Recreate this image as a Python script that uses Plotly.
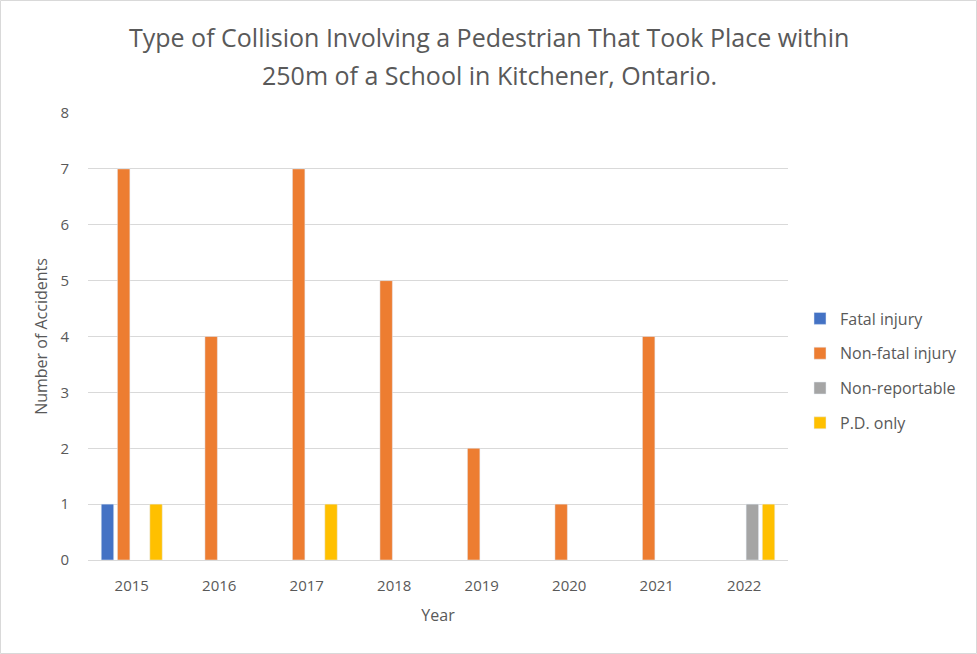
import plotly.graph_objects as go

years = ["2015", "2016", "2017", "2018", "2019", "2020", "2021", "2022"]
fatal = [1, 0, 0, 0, 0, 0, 0, 0]
non_fatal = [7, 4, 7, 5, 2, 1, 4, 0]
non_reportable = [0, 0, 0, 0, 0, 0, 0, 1]
pd_only = [1, 0, 1, 0, 0, 0, 0, 1]

title_lines = ["Type of Collision Involving a Pedestrian That Took Place within",
               "250m of a School in Kitchener, Ontario."]

series = [
    ("Fatal injury", fatal, "#4472C4"),
    ("Non-fatal injury", non_fatal, "#ED7D31"),
    ("Non-reportable", non_reportable, "#A5A5A5"),
    ("P.D. only", pd_only, "#FFC000"),
]

W, H = 977, 654
L, R, T, B = 88, 6, 113, 94
pw, ph = W - L - R, H - T - B
plot_w = 700

FONT = "Open Sans"
TXT = "#595959"

fig = go.Figure()
for i, (name, vals, col) in enumerate(series):
    fig.add_trace(go.Bar(x=years, y=[v if v != 0 else None for v in vals],
                         name=name, marker_color=col, legendgroup=f"g{i}"))

fig.update_layout(
    width=W, height=H,
    margin=dict(l=L, r=R, t=T, b=B),
    paper_bgcolor="white", plot_bgcolor="white",
    barmode="group", bargap=0.26, bargroupgap=0.23,
    font=dict(family=FONT, color=TXT, size=15),
    xaxis=dict(domain=[0, plot_w / pw],
               title=dict(text="Year", font=dict(size=16, color=TXT), standoff=15),
               showgrid=False, showline=True, linecolor="#D9D9D9", linewidth=1,
               ticks="", ticklabelstandoff=12, tickfont=dict(size=15, color=TXT)),
    yaxis=dict(title=dict(text="Number of Accidents", font=dict(size=16, color=TXT), standoff=8),
               range=[0, 8], dtick=1, showgrid=True, gridcolor="#D9D9D9", gridwidth=1,
               zeroline=False, showline=False, ticks="", ticklabelstandoff=18,
               tickfont=dict(size=15, color=TXT)),
    legend=dict(x=(800 - L) / pw, xanchor="left", y=(560 - 371) / ph, yanchor="middle",
                font=dict(size=16, color=TXT), traceorder="grouped",
                tracegroupgap=11, bgcolor="rgba(0,0,0,0)"),
    showlegend=True,
)

for k, (line, ypx) in enumerate(zip(title_lines, [37, 75])):
    fig.add_annotation(text=line, xref="paper", yref="paper",
                       x=(489 - L) / pw, y=(H - B - ypx) / ph,
                       xanchor="center", yanchor="middle", showarrow=False,
                       font=dict(family=FONT, size=25, color=TXT))

fig.add_shape(type="rect", xref="paper", yref="paper",
              x0=(0.5 - L) / pw, x1=(W - 0.5 - L) / pw,
              y0=-(B - 0.5) / ph, y1=1 + (T - 0.5) / ph,
              line=dict(color="#D9D9D9", width=1), layer="below")

fig.write_html("out.html")
